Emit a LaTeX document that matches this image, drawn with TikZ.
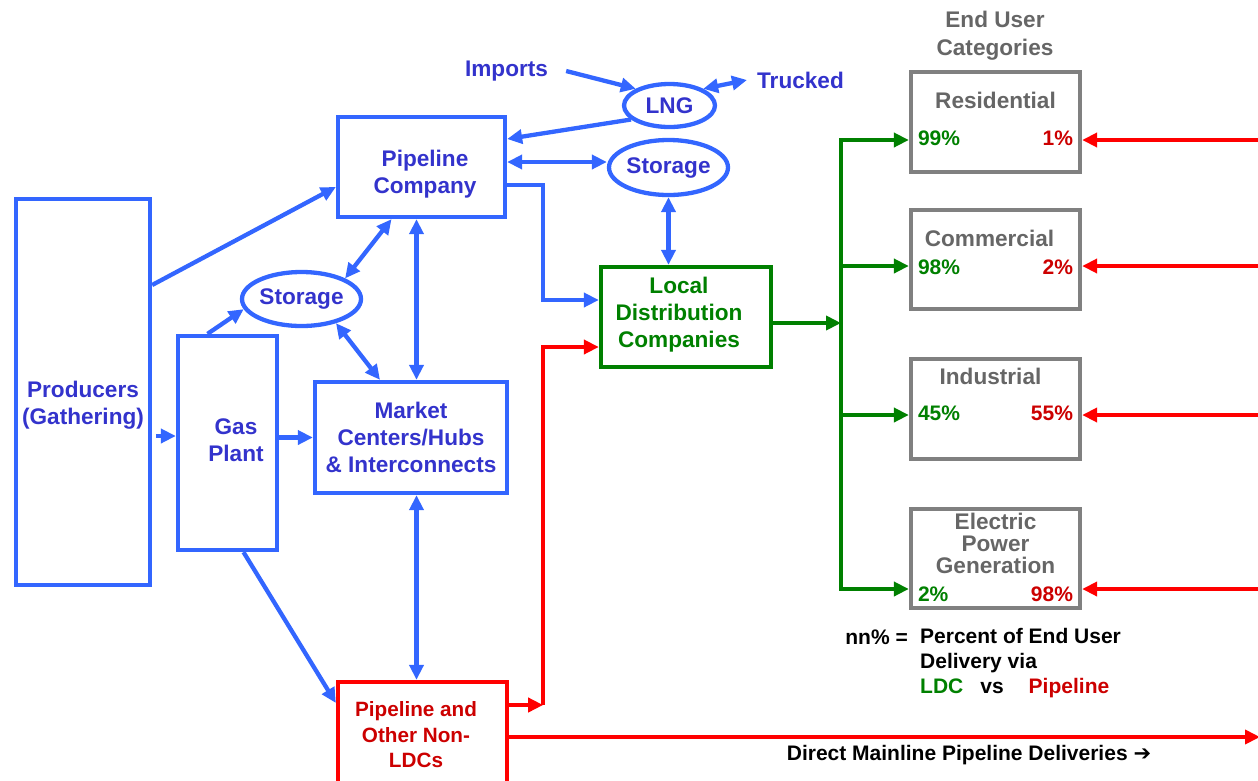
\documentclass[tikz,border=0pt]{standalone}
\usepackage{fontspec}
\setmainfont{Liberation Sans}
\newfontfamily\arrowfont{DejaVu Sans}
\usetikzlibrary{shapes.geometric,arrows.meta,positioning,calc}
\definecolor{flowblue}{RGB}{51,102,255}
\definecolor{textblue}{RGB}{51,51,204}
\definecolor{ldcgreen}{RGB}{0,128,0}
\definecolor{pipered}{RGB}{255,0,0}
\definecolor{textred}{RGB}{204,0,0}
\definecolor{usergray}{RGB}{128,128,128}
\definecolor{textgray}{RGB}{102,102,102}

\begin{document}
\begin{tikzpicture}[
    x=1pt, y=-1pt,
    font=\fontsize{22.6}{27}\selectfont\bfseries,
    unit/.style={draw=flowblue, line width=4.3pt, inner sep=0pt, align=center, text=textblue},
    tank/.style={ellipse, draw=flowblue, line width=4.3pt, inner sep=0pt, text=textblue},
    tag/.style={text=textblue, inner sep=0pt, align=center},
    enduser/.style={draw=usergray, line width=4.3pt, minimum width=169pt, inner sep=0pt},
    caption/.style={text=textgray, align=center, inner sep=0pt, font=\fontsize{22.6}{22}\selectfont\bfseries},
    pct/.style={inner sep=0pt, font=\fontsize{21}{24}\selectfont\bfseries},
    keynote/.style={inner sep=0pt, font=\fontsize{21}{25}\selectfont\bfseries},
    bline/.style={draw=flowblue, line width=4.3pt},
    barrow/.style={bline, -{Triangle[length=15pt,width=14pt]}},
    bboth/.style={bline, {Triangle[length=15pt,width=14pt]}-{Triangle[length=15pt,width=14pt]}},
    garrow/.style={draw=ldcgreen, line width=4.3pt, -{Triangle[length=15pt,width=14pt]}},
    rarrow/.style={draw=pipered, line width=4.3pt, -{Triangle[length=15pt,width=14pt]}}
]
\useasboundingbox (0,0) rectangle (1258,780);
\clip (0,0) rectangle (1258,780);

\node[unit, minimum width=134pt, minimum height=386pt] (prod) at (83,392) {};
\node[tag] (prodtext) at (83,405) {Producers\\(Gathering)};
\node[unit, minimum width=99pt, minimum height=214pt] (gp) at (227.5,443) {};
\node[tag] (gptext) at (236,440) {Gas\\Plant};
\node[unit, minimum width=167pt, minimum height=100pt] (pc) at (421.5,167) {};
\node[tag] (pctext) at (425,174) {Pipeline\\Company};
\node[unit, minimum width=192pt, minimum height=111pt] (mc) at (411,437.5) {Market\\Centers/Hubs\\\& Interconnects};
\node[unit, draw=ldcgreen, minimum width=170pt, minimum height=100pt] (ldc) at (686,317) {};
\node[tag, text=ldcgreen] (ldctext) at (679,315) {Local\\Distribution\\Companies};
\node[unit, draw=pipered, text=textred, font=\fontsize{20.7}{25.5}\selectfont\bfseries, minimum width=169pt, minimum height=106pt] (nl) at (422.5,735) {};
\node[tag, text=textred, font=\fontsize{20.7}{25.5}\selectfont\bfseries] (nltext) at (416,735) {Pipeline and\\Other Non-\\LDCs};
\node[tank, minimum width=113pt, minimum height=54pt] (stl) at (301.5,299) {Storage};
\node[tank, minimum width=91pt, minimum height=43pt] (lng) at (669.5,105.5) {LNG};
\node[tank, minimum width=115pt, minimum height=55pt] (str) at (668.5,167.5) {Storage};
\node[tag] (imp) at (506.5,71) {Imports};
\node[tag] (tru) at (800.5,80) {Trucked};

\node[caption, font=\fontsize{22.6}{28}\selectfont\bfseries] (euc) at (995,36) {End User\\Categories};
\foreach \b/\cy/\h in {res/122/100, com/259.5/99, ind/409/100, elec/558.5/99}
  \node[enduser, minimum height=\h pt] (\b) at (995.5,\cy) {};
\foreach \b/\t/\d/\x in {res/Residential/-31/0, com/Commercial/-31/-6, ind/Industrial/-20/-5, elec/{Electric\\Power\\Generation}/-37/0}
  \node[caption] (\b-title) at ([xshift=\x pt,yshift=\d pt]\b.north) {\t};
\foreach \b/\g/\r/\d in {res/99/1/-16, com/98/2/-8, ind/45/55/-4, elec/2/98/-36} {
  \node[pct, text=ldcgreen, anchor=west] (\b-ldc) at ([xshift=9pt,yshift=\d pt]\b.west) {\g\%};
  \node[pct, text=textred, anchor=east] (\b-pipe) at ([xshift=-9pt,yshift=\d pt]\b.east) {\r\%};
}

\draw[barrow] ([yshift=107pt]prod.east) -- ([yshift=-20pt]pc.west);
\draw[barrow] ([xshift=-20pt,yshift=7pt]gp.west) -- ([yshift=7pt]gp.west);
\draw[barrow] ([xshift=-20pt]gp.north) -- (stl.190);
\draw[barrow] (gp.east |- mc.west) -- (mc.west);
\draw[barrow] ([xshift=16pt]gp.south) -- ([yshift=32pt]nl.west);
\draw[bboth] (stl.north east) -- ([xshift=-30pt]pc.south);
\draw[bboth] (stl.-35) -- ([xshift=-31pt]mc.north);
\draw[bboth] ([xshift=-5pt]pc.south) -- ([xshift=-5pt]pc.south |- mc.north);
\draw[bboth] ([xshift=-6pt]nl.north) -- ([xshift=-6pt]nl.north |- mc.south);
\draw[barrow] ([yshift=-18pt]pc.east) -- ++(36,0) |- ([yshift=17pt]ldc.west);
\draw[barrow] (lng.200) -- ([yshift=28pt]pc.east);
\draw[barrow] ([xshift=18pt]imp.east) -- (lng.north west);
\draw[bboth] (lng.north east) -- ([xshift=-10pt]tru.west);
\draw[bboth] ([yshift=5pt]pc.east) -- ([yshift=5pt]pc.east -| str.west);
\draw[bboth] (str.south) -- (str.south |- ldc.north);

\coordinate (jn) at ([xshift=34pt,yshift=30pt]nl.east);
\draw[rarrow] ([yshift=30pt]nl.east) -- (jn);
\draw[rarrow] (jn) |- ([yshift=-30pt]ldc.west);
\coordinate (rim) at (1260,0);
\coordinate (dm) at ([yshift=-2pt]nl.east);
\draw[rarrow] (dm) -- (rim |- dm);
\node[keynote, anchor=base] (dmtext) at (969,760) {Direct Mainline Pipeline Deliveries {\arrowfont\bfseries ➔}};

\coordinate (trunk) at (841,0);
\coordinate (ldcout) at ([yshift=-6pt]ldc.east);
\draw[garrow] (ldcout) -- (trunk |- ldcout);
\foreach \b/\s in {res/-18, com/-6.5, ind/-6, elec/-30.5} {
  \coordinate (\b-in) at ([yshift=\s pt]\b.west);
  \coordinate (\b-out) at ([yshift=\s pt]\b.east);
  \draw[garrow] (trunk |- \b-in) -- (\b-in);
  \draw[rarrow] (rim |- \b-out) -- (\b-out);
}
\draw[draw=ldcgreen, line width=4.3pt, line cap=rect] (trunk |- res-in) -- (trunk |- elec-in);

\node[keynote, anchor=base east] (nnkey) at (908,644) {nn\% =};
\node[keynote, align=left, anchor=north west] (keytext) at (920,628) {Percent of End User\\Delivery via\\{\color{ldcgreen}LDC}\hspace{17pt}vs\hspace{25pt}{\color{textred}Pipeline}};
\end{tikzpicture}
\end{document}
